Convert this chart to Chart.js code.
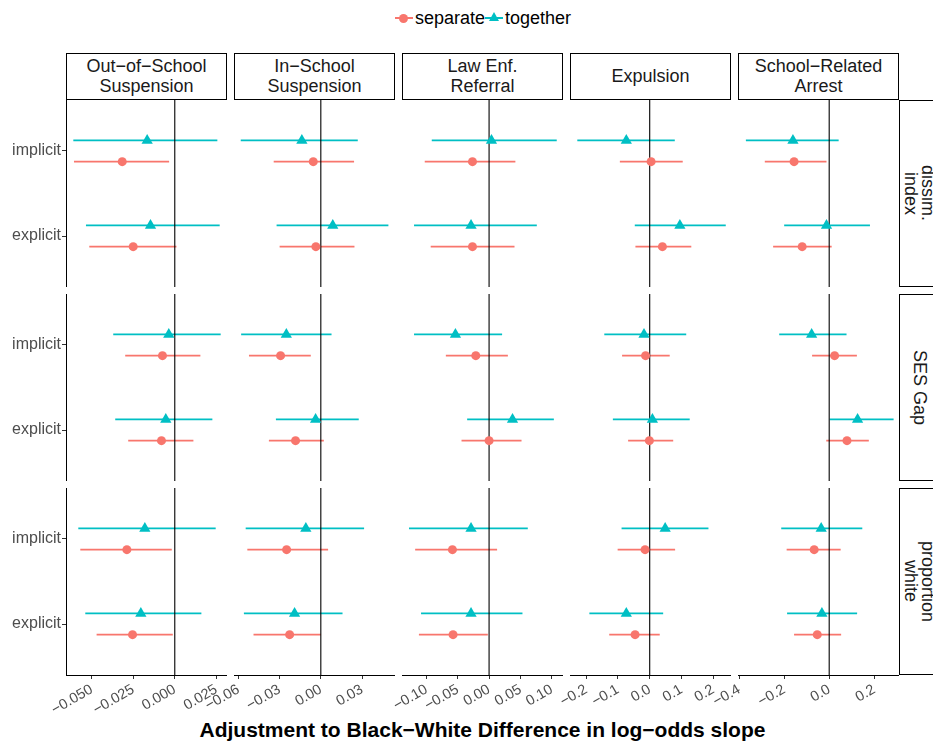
<!DOCTYPE html>
<html lang="en">
  <head>
    <meta charset="utf-8" />
    <title>Adjustment to Black-White Difference</title>
    <style>
      * {
        margin: 0;
        padding: 0;
      }
      body {
        position: relative;
        width: 933px;
        height: 745px;
        overflow: hidden;
        background: #fff;
        font-family: "Liberation Sans", Arial, sans-serif;
      }
      .panel {
        position: absolute;
      }
      .strip {
        position: absolute;
        box-sizing: border-box;
        border: 1.5px solid #000;
        background: #fff;
        display: flex;
        align-items: center;
        justify-content: center;
        text-align: center;
        white-space: pre-line;
        font-size: 18px;
        line-height: 19.5px;
        color: #1a1a1a;
      }
      .strip.side {
        writing-mode: vertical-rl;
        line-height: 17px;
        padding-right: 7px;
      }
      .legend {
        position: absolute;
        left: 0;
        width: 966px;
        top: 7px;
        display: flex;
        justify-content: center;
        align-items: center;
        font-size: 18px;
        color: #000;
      }
      .key {
        position: relative;
        width: 18px;
        height: 22px;
        margin-right: 2px;
      }
      .key .bar {
        position: absolute;
        left: 0;
        right: 0;
        top: 10px;
        height: 2px;
      }
      .key .dot {
        position: absolute;
        left: 4.5px;
        top: 6.5px;
        width: 9px;
        height: 9px;
        border-radius: 50%;
      }
      .key .tri {
        position: absolute;
        left: 3.5px;
        top: 4.5px;
        width: 0;
        height: 0;
        border-left: 5.5px solid transparent;
        border-right: 5.5px solid transparent;
        border-bottom: 9.5px solid #00bfc4;
      }
      .xtitle {
        position: absolute;
        left: 66px;
        width: 833px;
        top: 718px;
        text-align: center;
        font-size: 21px;
        font-weight: bold;
        color: #000;
      }
    </style>
  </head>
  <body>
    <div class="legend" id="legend"></div>
    <div class="xtitle">Adjustment to Black−White Difference in log−odds slope</div>

    <script src="https://cdn.jsdelivr.net/npm/chart.js@4.4.1/dist/chart.umd.min.js"></script>

    <script>
      // facet labels
      const outcomes = [
        "Out−of−School\nSuspension",
        "In−School\nSuspension",
        "Law Enf.\nReferral",
        "Expulsion",
        "School−Related\nArrest",
      ];
      const measures = ["dissim.\nindex", "SES Gap", "proportion\nwhite"];
      const specs = ["implicit", "explicit"];
      const seriesNames = ["separate", "together"];

      // per outcome: [implicit [lo, est, hi], explicit [lo, est, hi]]
      const dissimSeparate = [
        [[-0.0606, -0.0316, -0.0034], [-0.0514, -0.025, 0.001]],
        [[-0.0343, -0.0055, 0.0242], [-0.03, -0.0036, 0.0245]],
        [[-0.1027, -0.0265, 0.042], [-0.0932, -0.0265, 0.0406]],
        [[-0.094, 0.0044, 0.104], [-0.045, 0.04, 0.131]],
        [[-0.286, -0.156, -0.012], [-0.249, -0.12, 0.011]],
      ];
      const dissimTogether = [
        [[-0.061, -0.0166, 0.0256], [-0.0534, -0.0146, 0.027]],
        [[-0.0583, -0.0138, 0.0269], [-0.0322, 0.0087, 0.0492]],
        [[-0.0915, 0.0038, 0.108], [-0.1198, -0.0288, 0.0762]],
        [[-0.228, -0.0737, 0.079], [-0.047, 0.095, 0.2395]],
        [[-0.37, -0.161, 0.042], [-0.2, -0.012, 0.181]],
      ];
      const sesSeparate = [
        [[-0.0298, -0.0074, 0.0154], [-0.028, -0.008, 0.0112]],
        [[-0.0523, -0.0293, -0.0073], [-0.0378, -0.0184, 0.0022]],
        [[-0.069, -0.0212, 0.03], [-0.044, 0.0, 0.0518]],
        [[-0.087, -0.013, 0.063], [-0.068, -0.001, 0.074]],
        [[-0.076, 0.024, 0.123], [-0.013, 0.079, 0.176]],
      ];
      const sesTogether = [
        [[-0.037, -0.0036, 0.0276], [-0.0358, -0.0054, 0.0226]],
        [[-0.058, -0.0251, 0.0078], [-0.0327, -0.0038, 0.0276]],
        [[-0.1198, -0.0537, 0.0208], [-0.035, 0.0374, 0.1034]],
        [[-0.143, -0.018, 0.115], [-0.116, 0.0085, 0.126]],
        [[-0.222, -0.078, 0.077], [0.002, 0.126, 0.286]],
      ];
      const whiteSeparate = [
        [[-0.0568, -0.0288, -0.0018], [-0.047, -0.0254, -0.0012]],
        [[-0.0535, -0.0249, 0.0053], [-0.049, -0.0227, 0.0]],
        [[-0.118, -0.0585, 0.0128], [-0.112, -0.0575, -0.002]],
        [[-0.101, -0.0146, 0.08], [-0.1275, -0.046, 0.0316]],
        [[-0.189, -0.0667, 0.051], [-0.156, -0.053, 0.053]],
      ];
      const whiteTogether = [
        [[-0.058, -0.018, 0.0246], [-0.0538, -0.0204, 0.016]],
        [[-0.0547, -0.0109, 0.0315], [-0.056, -0.0191, 0.0158]],
        [[-0.1278, -0.0288, 0.0618], [-0.1086, -0.0288, 0.0533]],
        [[-0.0886, 0.0487, 0.185], [-0.19, -0.0737, 0.0424]],
        [[-0.213, -0.0356, 0.147], [-0.187, -0.0324, 0.124]],
      ];

      // x scales, one per outcome column
      const xLimits = [
        [-0.0654, 0.0314],
        [-0.0632, 0.054],
        [-0.139, 0.118],
        [-0.251, 0.256],
        [-0.405, 0.31],
      ];
      const xTicks = [
        [-0.05, -0.025, 0, 0.025],
        [-0.06, -0.03, 0, 0.03],
        [-0.1, -0.05, 0, 0.05, 0.1],
        [-0.2, -0.1, 0, 0.1, 0.2],
        [-0.4, -0.2, 0, 0.2],
      ];
      const xDigits = [3, 2, 2, 1, 1];

      const separateRows = [dissimSeparate, sesSeparate, whiteSeparate];
      const togetherRows = [dissimTogether, sesTogether, whiteTogether];

      const RED = "#F8766D";
      const CYAN = "#00BFC4";
      const FONT = "'Liberation Sans', Arial, sans-serif";

      // layout
      const colLeft = [66, 234, 402, 570, 738];
      const rowTop = [100, 294, 488];
      const PANEL_W = 161;
      const PANEL_H = 187;
      const AXIS_W = 66;
      const AXIS_H = 70;

      const specY = [2, 1]; // implicit above explicit
      const DODGE = 0.125;

      const fmt = (v, d) => (v < 0 ? "\u2212" : "") + Math.abs(v).toFixed(d);

      function estPoints(rows, shift) {
        return rows.map((ci, k) => ({ x: ci[1], y: specY[k] + shift }));
      }
      function barPoints(rows, shift) {
        const pts = [];
        rows.forEach((ci, k) => {
          const y = specY[k] + shift;
          pts.push({ x: ci[0], y: y }, { x: ci[2], y: y }, { x: null, y: null });
        });
        return pts;
      }

      function makePanel(r, c) {
        const leftAxis = c === 0;
        const bottomAxis = r === 2;
        const canvas = document.createElement("canvas");
        canvas.className = "panel";
        canvas.width = AXIS_W + PANEL_W;
        canvas.height = PANEL_H + (bottomAxis ? AXIS_H : 0);
        canvas.style.left = colLeft[c] - AXIS_W + "px";
        canvas.style.top = rowTop[r] + "px";
        document.body.appendChild(canvas);

        const sep = separateRows[r][c];
        const tog = togetherRows[r][c];

        new Chart(canvas, {
          type: "scatter",
          data: {
            datasets: [
              {
                label: seriesNames[0],
                data: estPoints(sep, -DODGE),
                pointStyle: "circle",
                pointRadius: 4.5,
                pointBackgroundColor: RED,
                pointBorderWidth: 0,
                order: 0,
              },
              {
                label: seriesNames[1],
                data: estPoints(tog, DODGE),
                pointStyle: "triangle",
                pointRadius: 6.5,
                pointBackgroundColor: CYAN,
                pointBorderWidth: 0,
                order: 0,
              },
              {
                label: "zero",
                data: [
                  { x: 0, y: 0.4 },
                  { x: 0, y: 2.6 },
                ],
                showLine: true,
                borderColor: "#000",
                borderWidth: 1.1,
                pointRadius: 0,
                order: 1,
              },
              {
                label: seriesNames[0] + " CI",
                data: barPoints(sep, -DODGE),
                showLine: true,
                spanGaps: false,
                borderColor: RED,
                borderWidth: 1.6,
                pointRadius: 0,
                order: 2,
              },
              {
                label: seriesNames[1] + " CI",
                data: barPoints(tog, DODGE),
                showLine: true,
                spanGaps: false,
                borderColor: CYAN,
                borderWidth: 1.6,
                pointRadius: 0,
                order: 2,
              },
            ],
          },
          options: {
            responsive: false,
            animation: false,
            devicePixelRatio: 1,
            events: [],
            layout: { autoPadding: false, padding: 0 },
            plugins: {
              legend: { display: false },
              tooltip: { enabled: false },
            },
            scales: {
              x: {
                type: "linear",
                display: bottomAxis,
                min: xLimits[c][0],
                max: xLimits[c][1],
                afterBuildTicks: (s) => {
                  s.ticks = xTicks[c].map((v) => ({ value: v }));
                },
                afterFit: (s) => {
                  if (!bottomAxis) return;
                  s.height = AXIS_H;
                  s.paddingLeft = 0;
                  s.paddingRight = 0;
                },
                ticks: {
                  autoSkip: false,
                  minRotation: 30,
                  maxRotation: 30,
                  padding: 2,
                  color: "#4D4D4D",
                  font: { family: FONT, size: 14.5 },
                  callback: (v) => fmt(v, xDigits[c]),
                },
                grid: {
                  drawOnChartArea: false,
                  drawTicks: true,
                  tickLength: 4,
                  tickColor: "#333",
                },
                border: { display: true, color: "#000", width: 1 },
              },
              // every panel keeps a y axis box of fixed width; only column 1 shows it
              y: {
                type: "linear",
                display: true,
                min: 0.4,
                max: 2.6,
                afterBuildTicks: (s) => {
                  s.ticks = specY.map((v) => ({ value: v }));
                },
                afterFit: (s) => {
                  s.width = AXIS_W;
                  s.paddingTop = 0;
                  s.paddingBottom = 0;
                },
                ticks: {
                  display: leftAxis,
                  autoSkip: false,
                  padding: 1,
                  color: "#4D4D4D",
                  font: { family: FONT, size: 16 },
                  callback: (v) => specs[specY.indexOf(v)] || "",
                },
                grid: {
                  display: leftAxis,
                  drawOnChartArea: false,
                  drawTicks: true,
                  tickLength: 4,
                  tickColor: "#333",
                },
                border: { display: leftAxis, color: "#000", width: 1 },
              },
            },
          },
        });
      }

      for (let r = 0; r < measures.length; r++) {
        for (let c = 0; c < outcomes.length; c++) {
          makePanel(r, c);
        }
      }

      // strips
      outcomes.forEach((name, c) => {
        const d = document.createElement("div");
        d.className = "strip";
        d.textContent = name;
        d.style.left = colLeft[c] + "px";
        d.style.top = "53px";
        d.style.width = PANEL_W + "px";
        d.style.height = "47px";
        document.body.appendChild(d);
      });
      measures.forEach((name, r) => {
        const d = document.createElement("div");
        d.className = "strip side";
        d.textContent = name;
        d.style.left = colLeft[4] + PANEL_W + "px";
        d.style.top = rowTop[r] + "px";
        d.style.width = "47px";
        d.style.height = PANEL_H + "px";
        document.body.appendChild(d);
      });

      // legend
      const legend = document.getElementById("legend");
      seriesNames.forEach((name, i) => {
        const color = i === 0 ? RED : CYAN;
        const key = document.createElement("span");
        key.className = "key";
        const bar = document.createElement("span");
        bar.className = "bar";
        bar.style.background = color;
        key.appendChild(bar);
        const mark = document.createElement("span");
        mark.className = i === 0 ? "dot" : "tri";
        if (i === 0) mark.style.background = color;
        key.appendChild(mark);
        legend.appendChild(key);
        const label = document.createElement("span");
        label.textContent = name;
        legend.appendChild(label);
      });
    </script>
  </body>
</html>
